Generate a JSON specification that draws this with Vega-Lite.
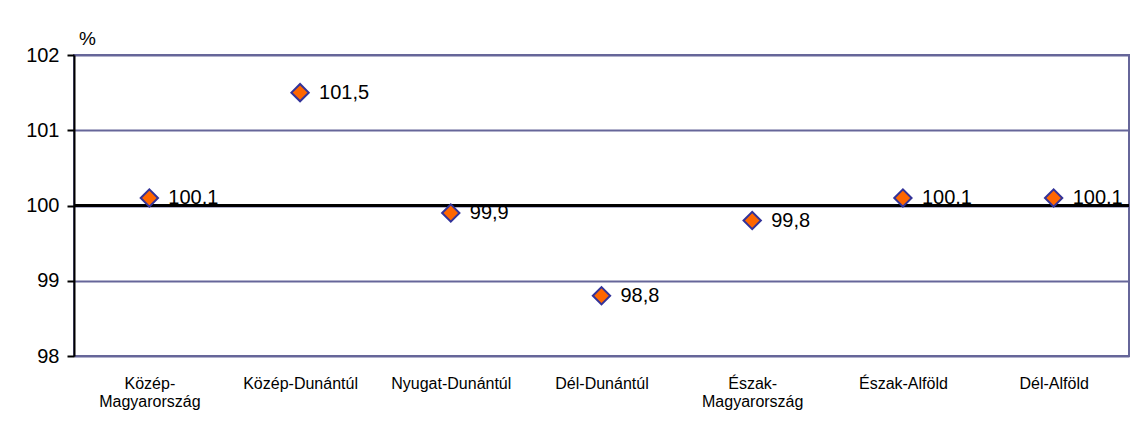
{
  "$schema": "https://vega.github.io/schema/vega-lite/v6.json",
  "autosize": {"type": "none"},
  "width": 1055,
  "height": 301,
  "padding": {"left": 74, "top": 55, "right": 4, "bottom": 68},
  "background": "white",
  "config": {
    "font": "Liberation Sans",
    "locale": {"number": {"decimal": ",", "thousands": " ", "grouping": [3], "currency": ["", " Ft"]}},
    "view": {"stroke": "#666699", "strokeWidth": 2, "fill": "white"}
  },
  "data": {"values": [
    {"region": "Közép-Magyarország", "value": 100.1},
    {"region": "Közép-Dunántúl", "value": 101.5},
    {"region": "Nyugat-Dunántúl", "value": 99.9},
    {"region": "Dél-Dunántúl", "value": 98.8},
    {"region": "Észak-Magyarország", "value": 99.8},
    {"region": "Észak-Alföld", "value": 100.1},
    {"region": "Dél-Alföld", "value": 100.1}
  ]},
  "encoding": {
    "x": {
      "field": "region", "type": "nominal", "sort": null,
      "scale": {"paddingInner": 0, "paddingOuter": 0},
      "axis": {
        "title": null, "ticks": false, "domain": false, "labelAngle": 0,
        "labelFont": "Liberation Sans", "labelFontSize": 16, "labelFontWeight": "normal", "labelColor": "black",
        "labelPadding": 19, "labelLineHeight": 18, "labelBaseline": "top",
        "labelExpr": "split(replace(datum.label, '-Magyarország', '-|Magyarország'), '|')"
      }
    }
  },
  "layer": [
    {
      "mark": {"type": "rule", "color": "black", "strokeWidth": 2},
      "encoding": {"x": null, "y": {"datum": 100, "type": "quantitative"}}
    },
    {
      "mark": {"type": "point", "shape": "diamond", "filled": true, "fill": "#FF6600", "stroke": "#333399", "strokeWidth": 2, "size": 300, "opacity": 1},
      "encoding": {
        "y": {
          "field": "value", "type": "quantitative",
          "scale": {"domain": [98, 102], "nice": false, "zero": false},
          "axis": {
            "values": [98, 99, 100, 101, 102], "format": "d",
            "grid": true, "gridColor": "#666699", "gridWidth": 2,
            "domainColor": "black", "domainWidth": 2,
            "tickColor": "black", "tickWidth": 2, "tickSize": 7,
            "labelFont": "Liberation Sans", "labelFontSize": 20, "labelColor": "black", "labelPadding": 8,
            "title": "%", "titleAngle": 0, "titleFont": "Liberation Sans", "titleFontSize": 19, "titleFontWeight": "normal",
            "titleColor": "black", "titleX": 13, "titleY": -11, "titleAlign": "center", "titleBaseline": "alphabetic"
          }
        }
      }
    },
    {
      "mark": {"type": "text", "align": "left", "baseline": "middle", "dx": 19, "fontSize": 20, "font": "Liberation Sans", "color": "black"},
      "encoding": {
        "y": {"field": "value", "type": "quantitative"},
        "text": {"field": "value", "type": "quantitative", "format": ".1f"}
      }
    }
  ]
}
